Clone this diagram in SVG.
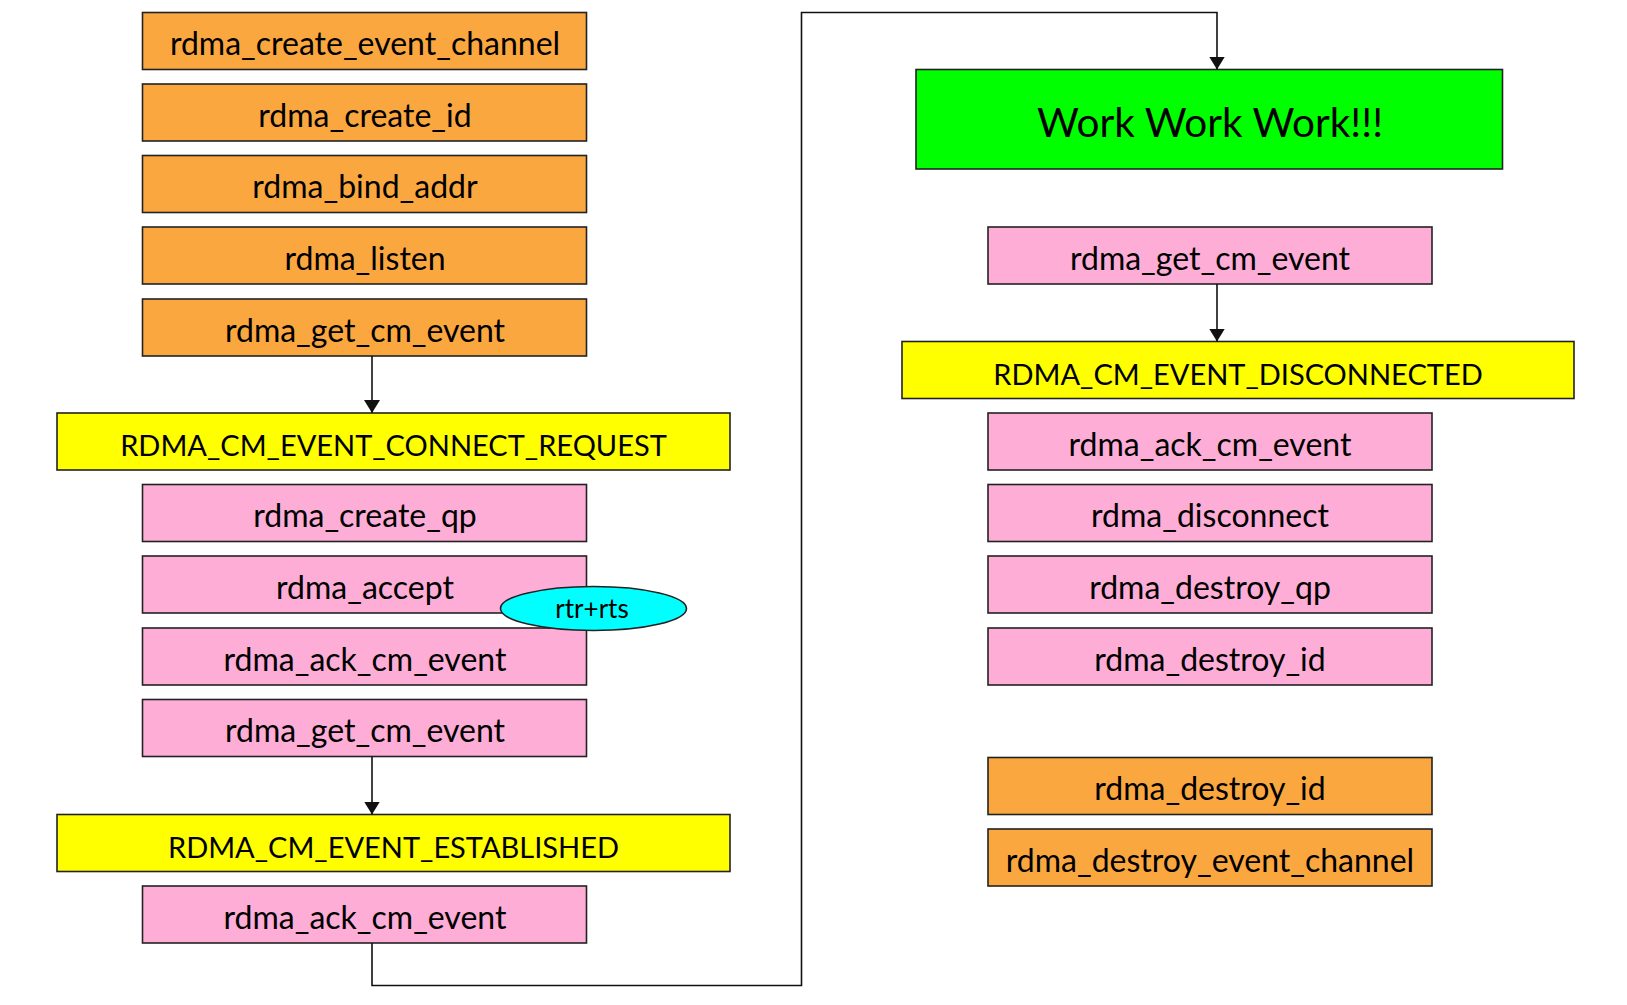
<svg xmlns="http://www.w3.org/2000/svg" width="1627" height="1005" viewBox="0 0 1627 1005">
<style>
rect{stroke:#222;stroke-width:1.6}
.o{fill:#FBA73F}
.p{fill:#FDADD6}
.y{fill:#FFFF00}
.g{fill:#00FF00}
text{font-family:Lato,"Open Sans",sans-serif;font-size:32px;fill:#000;text-anchor:middle}
.u{font-size:29px}
.big{font-size:40.5px}
.sm{font-size:26px}
.c{fill:none;stroke:#111;stroke-width:1.6}
</style>
<defs>
<marker id="ah" viewBox="0 0 13 16" refX="13" refY="8" markerWidth="13" markerHeight="16" markerUnits="userSpaceOnUse" orient="auto">
<path d="M0,0 L13,8 L0,16 z" fill="#111"/>
</marker>
</defs>
<g id="n1"><rect class="o" x="142.5" y="12.5" width="444" height="57"/><text x="365" y="55">rdma_create_event_channel</text></g>
<g id="n2"><rect class="o" x="142.5" y="84" width="444" height="57"/><text x="365" y="126.5">rdma_create_id</text></g>
<g id="n3"><rect class="o" x="142.5" y="155.5" width="444" height="57"/><text x="365" y="198">rdma_bind_addr</text></g>
<g id="n4"><rect class="o" x="142.5" y="227" width="444" height="57"/><text x="365" y="269.5">rdma_listen</text></g>
<g id="n5"><rect class="o" x="142.5" y="299" width="444" height="57"/><text x="365" y="341.5">rdma_get_cm_event</text></g>
<g id="n6"><rect class="y" x="57" y="413" width="673" height="57"/><text class="u" x="393.5" y="456">RDMA_CM_EVENT_CONNECT_REQUEST</text></g>
<g id="n7"><rect class="p" x="142.5" y="484.5" width="444" height="57"/><text x="365" y="527">rdma_create_qp</text></g>
<g id="n8"><rect class="p" x="142.5" y="556" width="444" height="57"/><text x="365" y="598.5">rdma_accept</text></g>
<g id="n9"><rect class="p" x="142.5" y="628" width="444" height="57"/><text x="365" y="670.5">rdma_ack_cm_event</text></g>
<g id="n10"><rect class="p" x="142.5" y="699.5" width="444" height="57"/><text x="365" y="742">rdma_get_cm_event</text></g>
<g id="n11"><rect class="y" x="57" y="814.5" width="673" height="57"/><text class="u" x="393.5" y="857.5">RDMA_CM_EVENT_ESTABLISHED</text></g>
<g id="n12"><rect class="p" x="142.5" y="886" width="444" height="57"/><text x="365" y="928.5">rdma_ack_cm_event</text></g>
<g id="n13"><ellipse cx="593.5" cy="608.5" rx="93" ry="22" fill="#00FFFF" stroke="#222" stroke-width="1.6"/><text class="sm" x="592" y="618">rtr+rts</text></g>
<g id="n14"><rect class="g" x="916" y="69.5" width="586.5" height="99.5"/><text class="big" x="1210" y="137">Work Work Work!!!</text></g>
<g id="n15"><rect class="p" x="988" y="227" width="444" height="57"/><text x="1210" y="269.5">rdma_get_cm_event</text></g>
<g id="n16"><rect class="y" x="902" y="341.5" width="672" height="57"/><text class="u" x="1238" y="384.5">RDMA_CM_EVENT_DISCONNECTED</text></g>
<g id="n17"><rect class="p" x="988" y="413" width="444" height="57"/><text x="1210" y="455.5">rdma_ack_cm_event</text></g>
<g id="n18"><rect class="p" x="988" y="484.5" width="444" height="57"/><text x="1210" y="527">rdma_disconnect</text></g>
<g id="n19"><rect class="p" x="988" y="556" width="444" height="57"/><text x="1210" y="598.5">rdma_destroy_qp</text></g>
<g id="n20"><rect class="p" x="988" y="628" width="444" height="57"/><text x="1210" y="670.5">rdma_destroy_id</text></g>
<g id="n21"><rect class="o" x="988" y="757.5" width="444" height="57"/><text x="1210" y="800">rdma_destroy_id</text></g>
<g id="n22"><rect class="o" x="988" y="829" width="444" height="57"/><text x="1210" y="871.5">rdma_destroy_event_channel</text></g>
<g id="connectors">
<path class="c" d="M372,356 V413" marker-end="url(#ah)"/>
<path class="c" d="M372,756.5 V814.5" marker-end="url(#ah)"/>
<path class="c" d="M372,943 V985.5 H801.5 V12.5 H1217 V69.5" marker-end="url(#ah)"/>
<path class="c" d="M1217,284 V341.5" marker-end="url(#ah)"/>
</g>
</svg>
